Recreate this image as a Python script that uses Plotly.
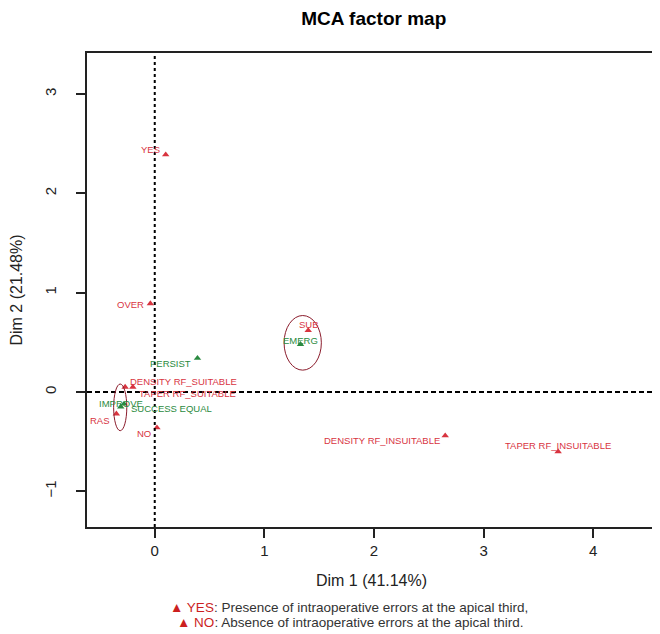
import plotly.graph_objects as go

# ---- data ----
labels = ["YES", "NO", "OVER", "SUB", "EMERG", "PERSIST",
          "DENSITY RF_SUITABLE", "TAPER RF_SUITABLE", "IMPROVE",
          "SUCCESS EQUAL", "RAS", "DENSITY RF_INSUITABLE", "TAPER RF_INSUITABLE"]
dim1 = [0.10, 0.02, -0.04, 1.40, 1.33, 0.39, -0.27, -0.20, -0.31, -0.28, -0.35, 2.65, 3.68]
dim2 = [2.39, -0.36, 0.89, 0.62, 0.48, 0.34, 0.05, 0.05, -0.15, -0.12, -0.22, -0.44, -0.60]
group = ["red", "red", "red", "red", "green", "green",
         "red", "red", "green", "green", "red", "red", "red"]

# ellipses (x0, x1, y0, y1) in data units
ellipses = [(1.18, 1.52, 0.22, 0.77), (-0.375, -0.255, -0.39, 0.08)]

x_ticks = [0, 1, 2, 3, 4]
y_ticks = [-1, 0, 1, 2, 3]

# ---- style ----
RED = "#d8343f"
GREEN = "#2a8a40"
col = {"red": RED, "green": GREEN}
# label placement: (xanchor, xshift px, yshift px)
label_pos = {
    "YES": ("right", -4, 5),
    "NO": ("right", -4, -6),
    "OVER": ("right", -4, -1),
    "SUB": ("center", 1, 6),
    "EMERG": ("center", 0, 4),
    "PERSIST": ("right", -4, -5),
    "DENSITY RF_SUITABLE": ("left", 3, 6),
    "TAPER RF_SUITABLE": ("left", 4, -6),
    "IMPROVE": ("center", 0, 3),
    "SUCCESS EQUAL": ("left", 5, -5),
    "RAS": ("right", -4, -7),
    "DENSITY RF_INSUITABLE": ("right", -3, -5),
    "TAPER RF_INSUITABLE": ("center", 0, 6),
}

FONT = "Liberation Sans, Arial, sans-serif"

fig = go.Figure()

fig.add_trace(go.Scatter(
    x=dim1, y=dim2, mode="markers",
    marker=dict(symbol="triangle-up", size=6.5, color=[col[g] for g in group]),
    hovertext=labels, showlegend=False,
))

for lab, xv, yv, g in zip(labels, dim1, dim2, group):
    anc, dx, dy = label_pos[lab]
    fig.add_annotation(x=xv, y=yv, text=lab, showarrow=False,
                       xanchor=anc, yanchor="middle", xshift=dx, yshift=dy,
                       font=dict(family=FONT, size=9.5, color=col[g]))

# reference lines
fig.add_vline(x=0, line=dict(color="black", width=2, dash="3px,3px"))
fig.add_hline(y=0, line=dict(color="black", width=2, dash="5px,3px"))

for (x0, x1, y0, y1) in ellipses:
    fig.add_shape(type="circle", x0=x0, x1=x1, y0=y0, y1=y1,
                  line=dict(color="#8b1c2c", width=1))

fig.add_annotation(
    xref="paper", yref="paper", x=0.4606, y=-0.169, yanchor="middle",
    showarrow=False,
    text=("<span style='color:#cc1f1f'>▲ YES</span>: Presence of intraoperative errors at the apical third,"),
    font=dict(family=FONT, size=13.5, color="#333333"))
fig.add_annotation(
    xref="paper", yref="paper", x=0.4635, y=-0.2005, yanchor="middle",
    showarrow=False,
    text=("<span style='color:#cc1f1f'>▲ NO</span>: Absence of intraoperative errors at the apical third."),
    font=dict(family=FONT, size=13.5, color="#333333"))

fig.update_layout(
    width=652, height=626,
    margin=dict(l=79, r=2, t=45, b=107),
    paper_bgcolor="white", plot_bgcolor="white",
    title=dict(text="<b>MCA factor map</b>", x=0.561, xanchor="center",
               y=0.984, yanchor="middle",
               font=dict(family=FONT, size=19, color="black")),
    font=dict(family=FONT, color="#222222"),
)
fig.update_xaxes(
    range=[-0.618, 4.573], tickvals=x_ticks, ticks="outside", ticklen=9,
    tickwidth=1.5, tickcolor="#222", showgrid=False, zeroline=False,
    showline=True, linecolor="#222", linewidth=1.5, mirror=True,
    tickfont=dict(size=15, color="#222"),
    title=dict(text="Dim 1 (41.14%)", font=dict(size=16, color="#222"), standoff=17),
)
fig.update_yaxes(
    range=[-1.36, 3.414], tickvals=y_ticks, ticks="outside", ticklen=9,
    tickwidth=1.5, tickcolor="#222", showgrid=False, zeroline=False,
    showline=True, linecolor="#222", linewidth=1.5, mirror=True,
    tickangle=-90, ticklabelstandoff=14,
    tickfont=dict(size=15, color="#222"),
    title=dict(text="Dim 2 (21.48%)", font=dict(size=16, color="#222"), standoff=17),
)

fig.write_html("out.html")
